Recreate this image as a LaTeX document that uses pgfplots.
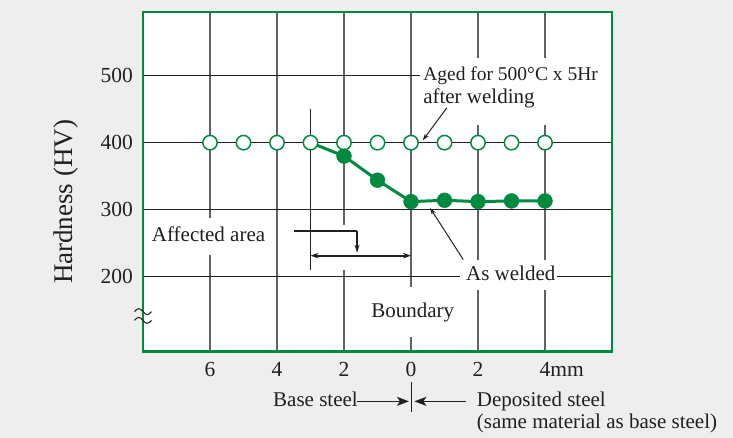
\documentclass[border=0pt]{standalone}
\usepackage{fontspec}
\setmainfont{Liberation Serif}
\usepackage{pgfplots}
\pgfplotsset{compat=1.18}
\usetikzlibrary{arrows.meta}
\definecolor{bg}{RGB}{238,238,238}
\definecolor{kg}{RGB}{0,138,64}
\definecolor{ink}{RGB}{35,31,32}
\newcommand\af{\fontsize{21}{23}\selectfont}
\begin{document}
\begin{tikzpicture}
\fill[bg] (-143pt,-86.3pt) rectangle (590pt,351.7pt);
\begin{axis}[
  at={(0,0)}, anchor=south west,
  x=33.5pt, y=0.67pt,
  xmin=-8, xmax=6, ymin=88, ymax=595,
  clip=false,
  axis background/.style={fill=white},
  axis line style={draw=kg, line width=2.8pt},
  xtick={-6,-4,-2,0,2,4},
  xticklabels={6,4,2,0,2,4\rlap{mm}},
  ytick={200,300,400,500},
  tick style={draw=none},
  xmajorgrids, ymajorgrids,
  x grid style={draw=black!62, line width=1.2pt},
  y grid style={draw=ink, line width=1.2pt},
  tick label style={font=\fontsize{21.5}{24}\selectfont, text=ink},
  /pgf/number format/assume math mode=true,
  yticklabel style={xshift=-6.5pt},
  xticklabel style={yshift=-7pt},
  ylabel={Hardness (HV)},
  every axis y label/.style={at={(axis description cs:-0.164,0.441)}, rotate=90, anchor=center, font=\fontsize{27}{30}\selectfont, text=ink},
]
% As welded line
\addplot[kg, line width=3pt, no markers] coordinates {(-3,400) (-2,380) (-1,344) (0,312) (1,314) (2,312) (3,313) (4,313)};
% Aged: open circles
\addplot[only marks, mark=*, mark size=7.2pt, mark options={fill=white, draw=kg, line width=1.5pt}] coordinates {(-6,400) (-5,400) (-4,400) (-3,400) (-2,400) (-1,400) (0,400) (1,400) (2,400) (3,400) (4,400)};
% As welded: filled circles
\addplot[only marks, mark=*, mark size=7.4pt, mark options={fill=kg, draw=kg, line width=0.5pt}] coordinates {(-2,380) (-1,344) (0,312) (1,314) (2,312) (3,313) (4,313)};

% gaps in the grid behind the labels
\fill[white] (axis cs:0.27,426.9) rectangle (axis cs:5.96,526.9);
\fill[white] (axis cs:1.46,180.6) rectangle (axis cs:4.36,225.4);
\fill[white] (axis cs:-1.4,110.4) rectangle (axis cs:1.4,185);
\fill[white] (axis cs:-7.85,233) rectangle (axis cs:-4.21,288);
\fill[white] (axis cs:-2.15,210.4) rectangle (axis cs:-1.85,277.6);

% labels
\node[anchor=base west, inner sep=0, font=\fontsize{19.5}{22}\selectfont, text=ink] at (axis cs:0.36,492.5) {Aged for 500°C x 5Hr};
\node[anchor=base west, inner sep=0, font=\af, text=ink] at (axis cs:0.36,458.2) {after welding};
\node[anchor=base west, inner sep=0, font=\af, text=ink] at (axis cs:1.64,194.5) {As welded};
\node[anchor=base west, inner sep=0, font=\af, text=ink] at (axis cs:-1.19,138.4) {Boundary};
\node[anchor=base west, inner sep=0, font=\af, text=ink] at (axis cs:-7.74,251.8) {Affected area};
\node[anchor=base west, inner sep=0, font=\af, text=ink] at (axis cs:-4.12,5.5) {Base steel};
\node[anchor=base west, inner sep=0, font=\af, text=ink] at (axis cs:1.96,5.5) {Deposited steel};
\node[anchor=base west, inner sep=0, font=\af, text=ink] at (axis cs:1.96,-27.3) {(same material as base steel)};

% leader arrows
\draw[ink, line width=1pt, -{Stealth[length=7pt,width=4.5pt]}] (axis cs:1.07,452) -- (axis cs:0.35,403.4);
\draw[ink, line width=1pt, -{Stealth[length=7pt,width=4.5pt]}] (axis cs:1.56,225.4) -- (axis cs:0.57,302.5);

% affected area bracket
\draw[ink, line width=1.2pt] (axis cs:-3,450) -- (axis cs:-3,210.4);
\draw[ink, line width=2pt] (axis cs:-3.49,268.7) -- (axis cs:-1.61,268.7);
\draw[ink, line width=1.2pt, -{Stealth[length=8pt,width=5pt]}] (axis cs:-1.61,268.7) -- (axis cs:-1.61,235.8);
\draw[ink, line width=2pt, {Stealth[length=8pt,width=5.5pt]}-{Stealth[length=8pt,width=5.5pt]}] (axis cs:-3,231.3) -- (axis cs:0,231.3);

% base / deposited arrows
\draw[ink, line width=1.6pt, -{Stealth[length=12pt,width=9pt,inset=3pt]}] (axis cs:-1.61,13.9) -- (axis cs:-0.06,13.9);
\draw[ink, line width=1.6pt, -{Stealth[length=12pt,width=9pt,inset=3pt]}] (axis cs:1.64,13.9) -- (axis cs:0.1,13.9);
\draw[ink, line width=1pt] (axis cs:0,43.3) -- (axis cs:0,-1.5);

% axis break
\draw[ink, line width=1pt] ([xshift=-8.5pt]axis cs:-8,147.8) sin ++(4.25pt,3pt) cos ++(4.25pt,-3pt) sin ++(4.25pt,-3pt) cos ++(4.25pt,3pt);
\draw[ink, line width=1pt] ([xshift=-8.5pt]axis cs:-8,134.8) sin ++(4.25pt,3pt) cos ++(4.25pt,-3pt) sin ++(4.25pt,-3pt) cos ++(4.25pt,3pt);
\end{axis}
\end{tikzpicture}
\end{document}
